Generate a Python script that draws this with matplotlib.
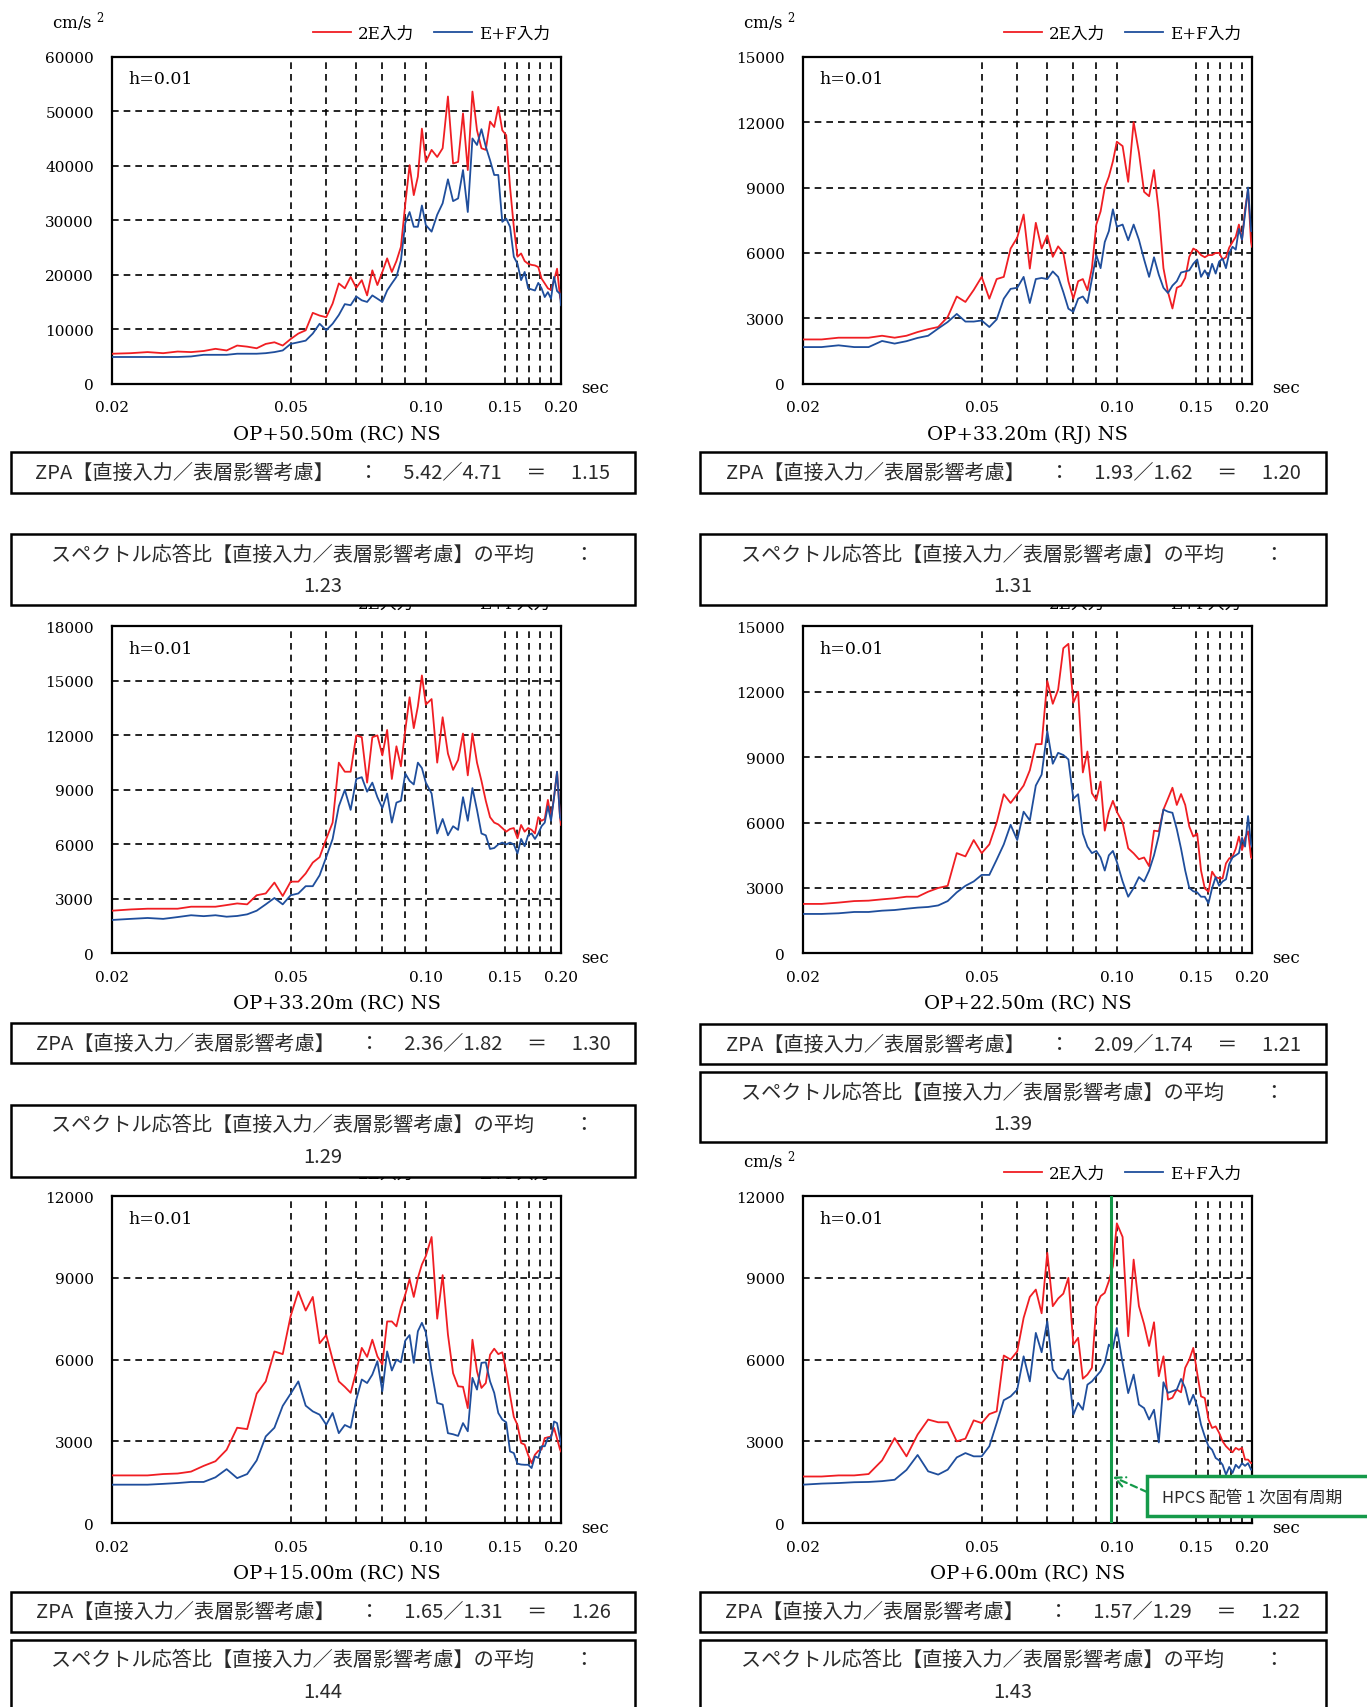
import numpy as np
import matplotlib
matplotlib.use("Agg")
import matplotlib.pyplot as plt
from matplotlib.patches import Rectangle

# periods (sec), shared by all panels
periods = [0.020, 0.022, 0.024, 0.026, 0.028, 0.030, 0.032, 0.034, 0.036, 0.038,
           0.040, 0.042, 0.044, 0.046, 0.048, 0.050, 0.052, 0.054, 0.056, 0.058,
           0.060, 0.062, 0.064, 0.066, 0.068, 0.070, 0.072, 0.074, 0.076, 0.078,
           0.080, 0.082, 0.084, 0.086, 0.088, 0.090, 0.092, 0.094, 0.096, 0.098,
           0.100, 0.103, 0.106, 0.109, 0.112, 0.115, 0.118, 0.121, 0.124, 0.127,
           0.130, 0.133, 0.136, 0.139, 0.142, 0.145, 0.148, 0.151, 0.154, 0.157,
           0.160, 0.163, 0.166, 0.169, 0.172, 0.175, 0.178, 0.181, 0.184, 0.187,
           0.190, 0.193, 0.196, 0.199, 0.200]

# OP+50.50m (RC) NS
op5050_2e = [5500, 5600, 5800, 5600, 5900, 5800, 6000, 6400, 6100, 7000,
             6800, 6500, 7300, 7600, 7000, 8200, 9200, 9800, 13000, 12500,
             12200, 14700, 18400, 17500, 19600, 17600, 19000, 16200, 20800, 18100,
             20500, 23000, 20500, 22500, 25100, 33000, 40100, 34600, 38000, 46800,
             40700, 42900, 41600, 43200, 52700, 40400, 40700, 49600, 39200, 53600,
             46500, 43200, 42900, 48100, 47100, 50800, 46500, 45600, 36100, 28800,
             23300, 23900, 22500, 22000, 21800, 21700, 21400, 19300, 18400, 17500,
             17200, 19000, 21100, 15900, 15300]
op5050_ef = [4900, 4900, 4900, 4900, 4900, 5000, 5300, 5300, 5300, 5500,
             5500, 5500, 5600, 5800, 6100, 7300, 7600, 7900, 9200, 11000,
             9800, 11000, 12600, 14600, 14400, 16000, 15300, 15000, 16200, 15600,
             15000, 17100, 18400, 19600, 22600, 29500, 31500, 28800, 28800, 32700,
             29100, 27900, 31000, 33100, 37500, 33500, 34000, 39200, 31500, 45000,
             43800, 46700, 43500, 41000, 38300, 38300, 29700, 30300, 28800, 23300,
             22000, 19000, 20500, 17500, 17300, 17100, 18500, 17500, 15900, 16800,
             15600, 19600, 17000, 16500, 14400]

# OP+33.20m (RJ) NS
op3320rj_2e = [2030, 2030, 2110, 2110, 2110, 2200, 2110, 2200, 2370, 2500,
               2600, 3060, 4000, 3750, 4300, 4900, 3900, 4800, 4900, 6200,
               6700, 7760, 5280, 7380, 6200, 6800, 5820, 6300, 6000, 4700,
               3900, 4700, 4800, 4290, 5300, 7300, 7900, 9000, 9500, 10200,
               11100, 10900, 9260, 12000, 10600, 8800, 8600, 9800, 7900, 5300,
               4200, 3450, 4400, 4500, 4850, 5820, 6200, 6100, 5900, 5800,
               5900, 5900, 6000, 6000, 5700, 5800, 6250, 6500, 6740, 7300,
               6600, 8000, 8900, 6500, 6280]
op3320rj_ef = [1680, 1680, 1760, 1680, 1680, 1960, 1840, 1950, 2100, 2200,
               2530, 2830, 3200, 2850, 2850, 2900, 2600, 2950, 3900, 4350,
               4400, 4900, 3700, 4800, 4850, 4800, 5150, 4900, 4200, 3440,
               3300, 3900, 4000, 3700, 4800, 5900, 5300, 6500, 7000, 8000,
               7200, 7300, 6580, 7300, 6600, 5700, 4900, 5800, 5000, 4400,
               4160, 4500, 4700, 5100, 5150, 5200, 5500, 5700, 4900, 5200,
               4900, 5500, 5050, 5600, 5740, 5300, 6000, 6280, 6150, 7100,
               6600, 7800, 9000, 7000, 7000]

# OP+33.20m (RC) NS
op3320rc_2e = [2350, 2420, 2460, 2460, 2460, 2570, 2570, 2570, 2660, 2750,
               2700, 3200, 3300, 3900, 3160, 3950, 3950, 4400, 5000, 5300,
               6300, 7200, 10500, 10000, 10000, 12000, 11900, 9400, 11900, 12000,
               10900, 12300, 9600, 11400, 10300, 12300, 14100, 12400, 13600, 15300,
               13700, 14000, 10500, 13000, 11000, 10100, 10650, 12100, 9800, 12100,
               10500, 9500, 8400, 7500, 7200, 7100, 6900, 6700, 6850, 6900,
               6340, 7070, 6700, 6900, 6800, 6600, 7500, 7300, 7400, 8450,
               7440, 8600, 10000, 7500, 7070]
op3320rc_ef = [1840, 1900, 1950, 1900, 2000, 2100, 2050, 2100, 2020, 2060,
               2150, 2350, 2700, 3050, 2700, 3200, 3300, 3700, 3700, 4300,
               5300, 6300, 8100, 9000, 7900, 9600, 9700, 8900, 9400, 8600,
               8000, 8800, 7200, 8300, 8400, 9900, 9500, 9300, 10500, 10200,
               9400, 8800, 6600, 7400, 6500, 7000, 6800, 8600, 7300, 9100,
               7900, 6600, 6500, 5750, 5800, 6000, 6100, 6000, 6100, 6000,
               5500, 6300, 5900, 6500, 6600, 6300, 6600, 7000, 7200, 8100,
               7300, 8600, 10000, 7500, 7350]

# OP+22.50m (RC) NS
op2250_2e = [2270, 2270, 2330, 2400, 2420, 2480, 2530, 2600, 2600, 2830,
             3000, 3100, 4600, 4450, 5200, 4600, 5000, 6000, 7300, 6900,
             7300, 7700, 8400, 9600, 9600, 12500, 11450, 12100, 14000, 14200,
             11500, 12000, 8300, 9260, 7350, 7040, 7880, 5630, 6500, 7000,
             6500, 6000, 4820, 4590, 4320, 4400, 4000, 5630, 5600, 6600,
             7100, 7600, 6810, 7310, 6810, 5820, 5360, 5500, 3800, 2980,
             2830, 3750, 3490, 3450, 3440, 4130, 4360, 4440, 4800, 5360,
             4740, 5300, 5600, 4400, 4360]
op2250_ef = [1810, 1810, 1840, 1900, 1900, 1960, 1990, 2050, 2100, 2130,
             2200, 2400, 2800, 3100, 3300, 3600, 3600, 4300, 5000, 5900,
             5200, 6500, 6100, 7700, 8200, 10200, 8700, 9200, 9100, 8900,
             7100, 7300, 5500, 4900, 4600, 4700, 4400, 3800, 4500, 4700,
             4200, 3300, 2600, 3000, 3500, 3300, 3800, 4500, 5400, 6600,
             6500, 6450, 5700, 4800, 3800, 3000, 2850, 2800, 2600, 2600,
             2300, 3000, 3500, 3100, 3300, 3400, 4100, 4400, 4500, 4600,
             5300, 4900, 6300, 5000, 4900]

# OP+15.00m (RC) NS
op1500_2e = [1750, 1750, 1750, 1800, 1820, 1890, 2100, 2270, 2690, 3500,
             3450, 4750, 5200, 6300, 6200, 7600, 8500, 7800, 8300, 6600,
             6900, 6000, 5200, 5000, 4780, 5570, 6430, 6100, 6730, 6120,
             5820, 7400, 7400, 7220, 7900, 8390, 8950, 8300, 9000, 9490,
             9800, 10500, 7500, 9100, 6920, 5500, 5020, 5000, 4220, 6730,
             5570, 4960, 5140, 6180, 6400, 6200, 6270, 5570, 4700, 3900,
             3600, 2940, 2880, 2500, 2200, 2510, 2650, 2700, 3120, 3150,
             3180, 3490, 3100, 2700, 2630]
op1500_ef = [1410, 1410, 1410, 1440, 1470, 1510, 1510, 1680, 1980, 1650,
             1800, 2300, 3180, 3500, 4300, 4750, 5200, 4310, 4100, 3980,
             3610, 4040, 3300, 3600, 3500, 4530, 5270, 5140, 5450, 5940,
             4840, 6300, 5600, 6000, 5900, 6700, 6900, 5880, 7040, 7350,
             7000, 5570, 4410, 4350, 3300, 3260, 3200, 3670, 3370, 5330,
             4900, 5880, 5900, 5200, 4780, 4040, 3800, 3700, 2630, 2570,
             2180, 2150, 2140, 2140, 2020, 2450, 2390, 2820, 2820, 3120,
             3120, 3730, 3670, 3100, 2880]

# OP+6.00m (RC) NS
op0600_2e = [1710, 1710, 1750, 1750, 1800, 2300, 3120, 2450, 3250, 3800,
             3700, 3700, 3000, 3100, 3770, 3670, 4000, 4100, 6150, 6000,
             6300, 7530, 8300, 8570, 7700, 9920, 7960, 8240, 8420, 9000,
             6550, 6800, 5300, 5450, 5700, 7960, 8330, 8450, 8880, 9430,
             11000, 10500, 6860, 9670, 7960, 7300, 6500, 7370, 5390, 6120,
             4530, 4600, 4900, 4800, 5700, 6000, 6430, 5500, 4650, 4590,
             3800, 3490, 3550, 3310, 3000, 2820, 2700, 2600, 2760, 2690,
             2760, 2330, 2330, 2200, 2200]
op0600_ef = [1410, 1450, 1470, 1500, 1510, 1540, 1590, 1950, 2500, 1900,
             1780, 1960, 2410, 2570, 2450, 2450, 2820, 3670, 4510, 4650,
             4900, 6120, 5200, 6980, 6270, 7410, 5630, 5330, 5270, 5630,
             3980, 4410, 4160, 5080, 5200, 5390, 5570, 5880, 6550, 6400,
             7160, 5880, 4770, 5450, 4350, 4220, 3800, 4160, 2960, 5170,
             4780, 4840, 4900, 5290, 4960, 4350, 4710, 4290, 3610, 3180,
             2820, 2690, 2390, 2300, 2140, 1780, 2060, 1840, 2140, 2020,
             2200, 2100, 2200, 1960, 1960]

titles = ["OP+50.50m (RC) NS", "OP+33.20m (RJ) NS", "OP+33.20m (RC) NS",
          "OP+22.50m (RC) NS", "OP+15.00m (RC) NS", "OP+6.00m (RC) NS"]
ymaxes = [60000, 15000, 18000, 15000, 12000, 12000]
ysteps = [10000, 3000, 3000, 3000, 3000, 3000]
zpa_values = ["5.42／4.71", "1.93／1.62", "2.36／1.82", "2.09／1.74", "1.65／1.31", "1.57／1.29"]
zpa_ratios = ["1.15", "1.20", "1.30", "1.21", "1.26", "1.22"]
spec_ratios = ["1.23", "1.31", "1.29", "1.39", "1.44", "1.43"]

grid_periods = [0.05, 0.06, 0.07, 0.08, 0.09, 0.10, 0.15, 0.16, 0.17, 0.18, 0.19]
xtick_vals = [0.02, 0.05, 0.10, 0.15, 0.20]
xtick_labels = ["0.02", "0.05", "0.10", "0.15", "0.20"]
hpcs_period = 0.097

series_2e = [op5050_2e, op3320rj_2e, op3320rc_2e, op2250_2e, op1500_2e, op0600_2e]
series_ef = [op5050_ef, op3320rj_ef, op3320rc_ef, op2250_ef, op1500_ef, op0600_ef]

RED = "#f01e23"
BLUE = "#1f4e9c"
GREEN = "#159a4a"
CJK = "Noto Sans CJK JP"

plt.rcParams["font.family"] = ["DejaVu Serif", CJK]
plt.rcParams["mathtext.fontset"] = "dejavuserif"

W, H = 1367, 1708
fig = plt.figure(figsize=(W / 100, H / 100), dpi=100)

# layout in pixels
col_x = [112, 803]
row_top = [57.7, 627.4, 1197.1]
aw, ah = 449, 327
box_x = [(11, 635), (700, 1326)]
zpa_y = [(453, 493.5), (453, 493.5), (1024, 1064), (1025, 1065), (1592.6, 1633), (1592.6, 1633)]
spec_y = [(535, 605.6), (535, 605.6), (1105.6, 1177.5), (1073, 1143), (1640.5, 1715), (1640.5, 1715)]


def fig_box(x0, y0, x1, y1, ec="black", lw=1.8):
    r = Rectangle((x0 / W, 1 - y1 / H), (x1 - x0) / W, (y1 - y0) / H,
                  transform=fig.transFigure, facecolor="white", edgecolor=ec,
                  linewidth=lw, zorder=5)
    fig.add_artist(r)


def fig_txt(x, y, s, **kw):
    fig.text(x / W, 1 - y / H, s, zorder=6, **kw)


axes = []
for i in range(6):
    r, c = divmod(i, 2)
    x0, y0 = col_x[c], row_top[r]
    ax = fig.add_axes([x0 / W, 1 - (y0 + ah) / H, aw / W, ah / H])
    axes.append(ax)

    ax.plot(periods, series_2e[i], color=RED, lw=1.3, label="2E入力", zorder=3)
    ax.plot(periods, series_ef[i], color=BLUE, lw=1.3, label="E+F入力", zorder=3)

    ax.set_xscale("log")
    ax.set_xlim(0.02, 0.2)
    ax.set_ylim(0, ymaxes[i])
    yt = np.arange(0, ymaxes[i] + 1, ysteps[i])
    ax.set_yticks(yt)
    ax.set_yticklabels([str(int(v)) for v in yt])
    ax.set_xticks(xtick_vals)
    ax.set_xticklabels(xtick_labels)
    ax.set_xticks([], minor=True)
    ax.tick_params(axis="both", length=0, labelsize=11)
    ax.tick_params(axis="x", pad=12)
    ax.tick_params(axis="y", pad=13)

    for t in grid_periods:
        ax.axvline(t, color="black", lw=1.2, ls=(0, (4, 3)), zorder=1)
    for v in yt[1:-1]:
        ax.axhline(v, color="black", lw=1.2, ls=(0, (4, 3)), zorder=1)
    for s in ax.spines.values():
        s.set_linewidth(1.6)

    ax.text(0.036, 0.932, "h=0.01", transform=ax.transAxes, fontsize=12.5, va="center")
    ax.text(1.044, -0.012, "sec", transform=ax.transAxes, fontsize=12, va="center")
    ax.text(0.5, -0.153, titles[i], transform=ax.transAxes, fontsize=14,
            ha="center", va="center")
    ax.text(-0.134, 1.109, "cm/s $^2$", transform=ax.transAxes, fontsize=12, va="center")
    ax.legend(loc="center left", bbox_to_anchor=(0.428, 1.07), ncol=2, frameon=False,
              borderpad=0, handlelength=2.3, handletextpad=0.4, columnspacing=1.2,
              prop={"family": ["DejaVu Serif", CJK], "size": 12})

    # ratio boxes
    bx0, bx1 = box_x[c]
    zy0, zy1 = zpa_y[i]
    fig_box(bx0, zy0, bx1, zy1)
    fig_txt((bx0 + bx1) / 2, (zy0 + zy1) / 2,
            "ZPA【直接入力／表層影響考慮】　 ：　 " + zpa_values[i] + "　 ＝　 " + zpa_ratios[i],
            family=CJK, fontsize=14.5, ha="center", va="center", color="#2a2a2a")
    sy0, sy1 = spec_y[i]
    fig_box(bx0, sy0, bx1, sy1)
    fig_txt((bx0 + bx1) / 2, sy0 + 20, "スペクトル応答比【直接入力／表層影響考慮】の平均　　：",
            family=CJK, fontsize=14.5, ha="center", va="center", color="#2a2a2a")
    fig_txt((bx0 + bx1) / 2, sy0 + 52, spec_ratios[i],
            family=CJK, fontsize=14.5, ha="center", va="center", color="#2a2a2a")

# HPCS piping natural period marker
ax = axes[5]
ax.axvline(hpcs_period, color=GREEN, lw=2.2, zorder=4)
ax.annotate("", xy=(hpcs_period * 1.01, 1700), xycoords="data",
            xytext=(1147, H - 1493), textcoords="figure pixels",
            arrowprops=dict(arrowstyle="->", color=GREEN, lw=1.6, ls=(0, (3, 2)),
                            mutation_scale=18, shrinkA=0, shrinkB=0),
            annotation_clip=False)
fig_box(1147, 1477, 1385, 1517, ec=GREEN, lw=2.5)
fig_txt(1162, 1498, "HPCS 配管 1 次固有周期", family=CJK, fontsize=12, va="center",
        color="#2a2a2a")

fig.savefig("out.png", dpi=100)
